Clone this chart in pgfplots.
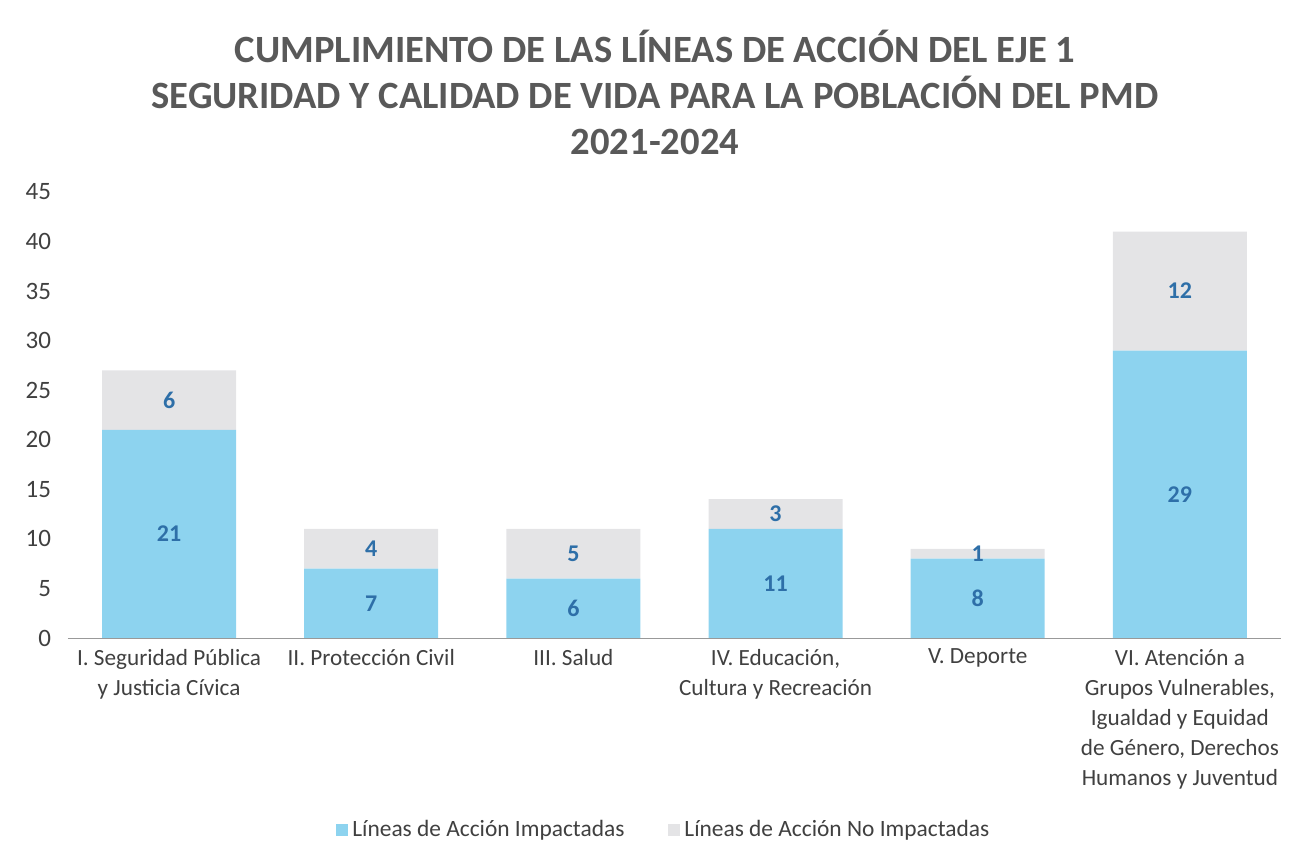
\documentclass[border=0pt]{standalone}
\usepackage{fontspec}
\setmainfont{Carlito}
\usepackage{pgfplots}
\usepackage{pgfplotstable}
\pgfplotsset{compat=1.18}

\definecolor{impblue}{HTML}{8DD3EF}
\definecolor{noimpgray}{HTML}{E4E4E6}
\definecolor{lblblue}{HTML}{2E6FA8}
\definecolor{titlegray}{HTML}{595959}
\definecolor{txtgray}{HTML}{404040}

% x = category index, imp = impactadas, noimp = no impactadas
\pgfplotstableread{
x imp noimp
0 21 6
1 7  4
2 6  5
3 11 3
4 8  1
5 29 12
}\datatable

\begin{document}
\begin{tikzpicture}
\begin{axis}[
    scale only axis,
    width=606.5pt,
    height=223pt,
    ybar stacked,
    bar width=67pt,
    xmin=-0.5, xmax=5.5,
    ymin=0, ymax=45,
    ytick={0,5,...,45},
    xtick={0,1,2,3,4,5},
    xticklabels={
        {I. Seguridad Pública\\y Justicia Cívica},
        {II. Protección Civil},
        {III. Salud},
        {IV. Educación,\\Cultura y Recreación},
        {V. Deporte},
        {VI. Atención a\\Grupos Vulnerables,\\Igualdad y Equidad\\de Género, Derechos\\Humanos y Juventud}
    },
    xticklabel style={align=center, font=\fontsize{11.6}{15}\selectfont, text=txtgray, anchor=north, yshift=-2pt},
    yticklabel style={font=\fontsize{12.5}{14}\selectfont, text=txtgray, xshift=-5pt},
    /pgf/number format/assume math mode=true,
    axis lines*=left,
    axis line style={-},
    x axis line style={draw=gray!80},
    y axis line style={draw=none},
    major tick length=0pt,
    clip=false,
    point meta=explicit,
    nodes near coords,
    every node near coord/.append style={
        anchor=center, font=\fontsize{12}{14}\selectfont\bfseries, text=lblblue},
    legend style={at={(0.492,-0.43)}, anchor=center, draw=none,
        font=\fontsize{11.7}{14}\selectfont, text=txtgray,
        /tikz/every even column/.append style={column sep=20pt}},
    legend columns=2,
    legend image code/.code={\fill[#1] (0pt,-3pt) rectangle (6pt,3pt);},
]
\addplot[draw=none, fill=impblue] table[x=x, y=imp, meta=imp] {\datatable};
\addplot[draw=none, fill=noimpgray] table[x=x, y=noimp, meta=noimp] {\datatable};
\legend{Líneas de Acción Impactadas, Líneas de Acción No Impactadas}
\coordinate (O) at (rel axis cs:0,0);
\end{axis}
\node[align=center, font=\fontsize{19.3}{23}\selectfont\bfseries, text=titlegray]
    at ([xshift=293.5pt, yshift=273pt]O) {CUMPLIMIENTO DE LAS LÍNEAS DE ACCIÓN DEL EJE 1\\SEGURIDAD Y CALIDAD DE VIDA PARA LA POBLACIÓN DEL PMD\\2021-2024};
\pgfresetboundingbox
\path[use as bounding box] ([xshift=-34pt, yshift=-113.5pt]O) rectangle ++(653.5pt,432.5pt);
\end{tikzpicture}
\end{document}
